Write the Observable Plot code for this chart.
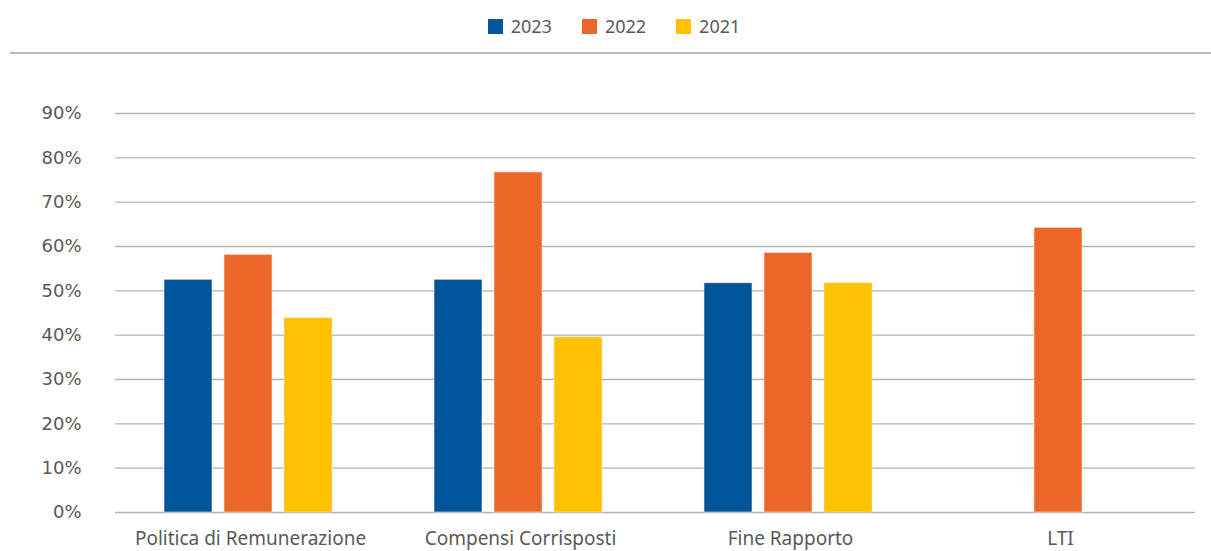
<!DOCTYPE html>
<html><head><meta charset="utf-8">
<script src="https://cdn.jsdelivr.net/npm/d3@7"></script>
<script src="https://cdn.jsdelivr.net/npm/@observablehq/plot@0.6"></script>
<style>
body{margin:0;background:#fff;font-family:"Noto Sans",sans-serif;color:#595959;}
#legend{height:52px;margin-left:10px;padding-left:7px;border-bottom:2px solid #bababa;display:flex;justify-content:center;align-items:center;font-size:18px;}
.item{display:flex;align-items:center;margin:0 15px;}
.sw{width:15px;height:15px;margin-right:8px;}
.yax text{font-family:"DejaVu Sans",sans-serif;font-size:18px;}
.fxax text{font-size:19px;}
</style></head>
<body>
<div id="legend"></div>
<div id="chart"></div>
<script>
const categories = ["Politica di Remunerazione", "Compensi Corrisposti", "Fine Rapporto", "LTI"];
const years = ["2023", "2022", "2021"];
const colors = ["#00559B", "#EC6628", "#FFC100"];
const values2023 = [0.525, 0.525, 0.517, null];
const values2022 = [0.581, 0.767, 0.585, 0.642];
const values2021 = [0.438, 0.395, 0.517, null];
const yTicks = [0, 0.1, 0.2, 0.3, 0.4, 0.5, 0.6, 0.7, 0.8, 0.9];

const series = {"2023": values2023, "2022": values2022, "2021": values2021};
const data = [];
categories.forEach((c, i) => years.forEach(y => {
  const v = series[y][i];
  if (v != null) data.push({cat: c, year: y, value: v});
}));

const legend = document.getElementById("legend");
years.forEach((y, i) => {
  const it = document.createElement("div"); it.className = "item";
  const sw = document.createElement("div"); sw.className = "sw"; sw.style.background = colors[i];
  const t = document.createElement("span"); t.textContent = y;
  it.append(sw, t); legend.append(it);
});

const chart = Plot.plot({
  width: 1211, height: 497,
  marginTop: 59, marginBottom: 39, marginLeft: 115, marginRight: 16,
  style: {fontSize: "17px", fontFamily: "Noto Sans", color: "#595959", background: "#fff"},
  fx: {domain: categories, padding: 0, label: null, axis: null},
  x: {domain: years, paddingInner: 0.2, paddingOuter: 0.85, align: 0.485, axis: null},
  y: {domain: [0, 0.9], label: null, axis: null},
  color: {domain: years, range: colors},
  marks: [
    Plot.axisY(yTicks, {tickSize: 0, tickPadding: 34, tickFormat: d => Math.round(d * 100) + "%", className: "yax"}),
    Plot.axisFx({anchor: "bottom", tickSize: 0, tickPadding: 19, label: null, className: "fxax"}),
    Plot.ruleY(yTicks, {stroke: "#b3b3b3", strokeWidth: 1.3}),
    Plot.barY(data, {fx: "cat", x: "year", y: "value", fill: "year", stroke: "#fbe3d6", strokeWidth: 0.6})
  ]
});
document.getElementById("chart").append(chart);
</script>
</body></html>
